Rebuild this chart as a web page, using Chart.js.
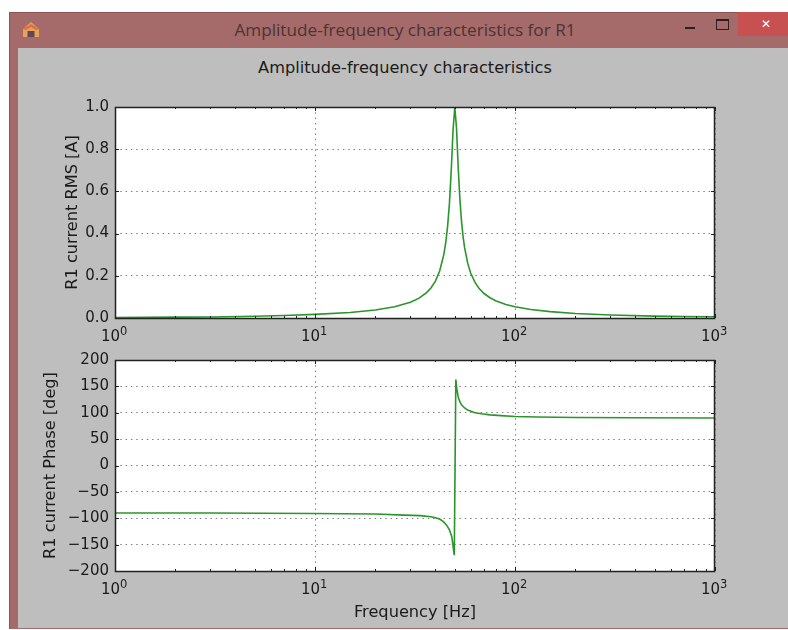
<!DOCTYPE html>
<html>
<head>
<meta charset="utf-8">
<title>Amplitude-frequency characteristics for R1</title>
<script src="https://cdn.jsdelivr.net/npm/chart.js@4"></script>
<style>
    html, body { margin: 0; padding: 0; background: #fff; overflow: hidden; }
    #window { position: absolute; left: 9px; top: 12px; width: 779px; height: 617px; background: #a56a6a; border-top: 1px solid #8a5555; border-left: 1px solid #8a5555; box-sizing: border-box; }
    #content { position: absolute; left: 18px; top: 48px; width: 770px; height: 580px; background: #bebebe; }
    #caption { position: absolute; left: 9px; top: 19px; width: 792px; text-align: center; font: 17.2px "Open Sans", sans-serif; color: #4a3434; line-height: 22px; }
    #heading { position: absolute; left: 18px; top: 59px; width: 774px; text-align: center; font: 16.2px "DejaVu Sans", sans-serif; color: #1a1a1a; line-height: 18px; }
    #close { position: absolute; left: 738px; top: 12px; width: 44px; padding-left: 6px; height: 24px; background: #c75050; color: #fff; text-align: center; font: bold 12px/24px "DejaVu Sans", sans-serif; }
    #minimize { position: absolute; left: 685px; top: 27px; width: 10px; height: 2px; background: #2b2020; }
    #maximize { position: absolute; left: 716px; top: 19px; width: 11px; height: 8px; border: 1px solid #2b2020; border-top-width: 2px; box-sizing: content-box; }
    #icon { position: absolute; left: 21px; top: 21px; }
    #amp-box { position: absolute; left: 18px; top: 90px; width: 770px; height: 260px; }
    #phase-box { position: absolute; left: 18px; top: 350px; width: 770px; height: 278px; }
    #amp-box canvas, #phase-box canvas { position: absolute; left: 0; top: 0; }
</style>
</head>
<body>
<div id="window"></div>
<svg id="icon" width="20" height="18" viewBox="0 0 20 18">
    <path d="M10 1 L18 8 L18 16 L2 16 L2 8 Z" fill="#e9a05a"/>
    <path d="M2 8 L10 3 L18 8 L15 9 L10 6 L5 9 Z" fill="#d9704a"/>
    <rect x="6.5" y="10" width="7" height="6" fill="#5c4a58"/>
</svg>
<div id="caption">Amplitude-frequency characteristics for R1</div>
<div id="minimize"></div>
<div id="maximize"></div>
<div id="close">✕</div>
<div id="content"></div>
<div id="heading">Amplitude-frequency characteristics</div>
<div id="amp-box"><canvas id="amp-chart"></canvas></div>
<div id="phase-box"><canvas id="phase-chart"></canvas></div>

<script>
// Values
const ampFreq = [1, 2, 3, 5, 7, 10, 15, 20, 25, 30, 33, 36, 38, 40, 42, 44, 45, 46, 47, 48, 49, 50, 51, 52, 53, 54, 55, 56, 58, 60, 63, 66, 70, 75, 80, 90, 100, 120, 150, 200, 300, 500, 700, 1000];
const ampValues = [0.002, 0.004, 0.005, 0.008, 0.012, 0.017, 0.026, 0.038, 0.053, 0.075, 0.093, 0.119, 0.142, 0.175, 0.223, 0.298, 0.354, 0.432, 0.542, 0.70, 0.89, 1.0, 0.90, 0.714, 0.565, 0.46, 0.386, 0.332, 0.26, 0.213, 0.17, 0.141, 0.116, 0.096, 0.082, 0.064, 0.053, 0.040, 0.030, 0.021, 0.014, 0.009, 0.007, 0.006];

const phaseFreq = [1, 3, 10, 20, 28, 33.5, 38, 40, 42.2, 44, 45.5, 47, 48.3, 49.7, 50.6, 51.2, 52, 53, 54, 56, 58, 63, 68, 75, 85, 100, 130, 200, 400, 1000];
const phaseValues = [-90, -90, -91, -92, -94, -95, -97, -99, -102, -107, -113, -122, -135, -170, 163, 145, 130, 121, 115, 109, 105, 100, 98, 96, 94.5, 93, 92, 91, 90.5, 90];

const xTicks = [1, 2, 3, 4, 5, 6, 7, 8, 9, 10, 20, 30, 40, 50, 60, 70, 80, 90, 100, 200, 300, 400, 500, 600, 700, 800, 900, 1000];
const xMajorTicks = [1, 10, 100, 1000];
const xExponents = ['0', '1', '2', '3'];
const ampTicks = [0, 0.2, 0.4, 0.6, 0.8, 1.0];
const phaseTicks = [-200, -150, -100, -50, 0, 50, 100, 150, 200];

const lineColor = '#2a962a';
const gridColor = '#808080';
const fontFamily = '"DejaVu Sans", sans-serif';
const textColor = '#1a1a1a';

// White plot area, inward ticks and 10^n labels like the matplotlib original
const framePlugin = {
    id: 'frame',
    beforeDraw(chart) {
        const { ctx, chartArea: area } = chart;
        ctx.save();
        ctx.fillStyle = '#fff';
        ctx.fillRect(area.left, area.top, area.width, area.height);
        ctx.restore();
    },
    afterDraw(chart) {
        const { ctx, chartArea: area, scales } = chart;
        ctx.save();
        ctx.strokeStyle = '#222';
        ctx.lineWidth = 1;
        ctx.beginPath();
        scales.x.ticks.forEach(tick => {
            const px = Math.round(scales.x.getPixelForValue(tick.value)) + 0.5;
            const len = xMajorTicks.includes(tick.value) ? 4 : 2;
            ctx.moveTo(px, area.top);
            ctx.lineTo(px, area.top + len);
            ctx.moveTo(px, area.bottom);
            ctx.lineTo(px, area.bottom - len);
        });
        scales.y.ticks.forEach(tick => {
            const py = Math.round(scales.y.getPixelForValue(tick.value)) + 0.5;
            ctx.moveTo(area.left, py);
            ctx.lineTo(area.left + 4, py);
            ctx.moveTo(area.right, py);
            ctx.lineTo(area.right - 4, py);
        });
        ctx.stroke();
        ctx.lineWidth = 1.5;
        ctx.strokeRect(area.left + 0.5, area.top + 0.5, area.width - 1, area.height);

        ctx.fillStyle = textColor;
        ctx.textAlign = 'left';
        ctx.textBaseline = 'alphabetic';
        xMajorTicks.forEach((value, i) => {
            const px = scales.x.getPixelForValue(value);
            const y = area.bottom + 22.5;
            ctx.font = '15px ' + fontFamily;
            ctx.fillText('10', px - 14, y);
            ctx.font = '11.5px ' + fontFamily;
            ctx.fillText(xExponents[i], px + 5, y - 6);
        });
        ctx.restore();
    }
};

// Both panels share the same look, only data and axis text differ
function makeChart(id, freq, values, yTicks, yMin, yMax, yTitle, xTitle, yWidth, yFormat, xHeight, padTop) {
    return new Chart(document.getElementById(id).getContext('2d'), {
        type: 'line',
        data: {
            datasets: [{
                data: freq.map((f, i) => ({ x: f, y: values[i] })),
                borderColor: lineColor,
                borderWidth: 1.6,
                pointRadius: 0,
                tension: 0,
                fill: false
            }]
        },
        options: {
            responsive: false,
            animation: false,
            layout: { padding: { left: 97 - yWidth, right: 73, top: padTop, bottom: 0 } },
            plugins: { legend: { display: false }, tooltip: { enabled: false } },
            scales: {
                x: {
                    type: 'logarithmic',
                    min: 1,
                    max: 1000,
                    afterBuildTicks: scale => { scale.ticks = xTicks.map(v => ({ value: v })); },
                    afterFit: scale => { scale.height = xHeight; scale.paddingLeft = 0; scale.paddingRight = 0; },
                    ticks: { display: false, autoSkip: false, maxRotation: 0 },
                    grid: {
                        drawTicks: false,
                        color: ctx => xMajorTicks.includes(ctx.tick && ctx.tick.value) ? gridColor : 'rgba(0,0,0,0)',
                        lineWidth: 1
                    },
                    border: { dash: [1.5, 3.8], display: false },
                    title: {
                        display: !!xTitle,
                        text: xTitle,
                        color: textColor,
                        font: { family: fontFamily, size: 16.2 },
                        padding: { top: 0, bottom: 5 }
                    }
                },
                y: {
                    min: yMin,
                    max: yMax,
                    afterBuildTicks: scale => { scale.ticks = yTicks.map(v => ({ value: v })); },
                    afterFit: scale => { scale.width = yWidth; scale.paddingTop = 0; scale.paddingBottom = 0; },
                    ticks: {
                        autoSkip: false,
                        padding: 6,
                        color: textColor,
                        font: { family: fontFamily, size: 15 },
                        callback: yFormat
                    },
                    grid: {
                        drawTicks: false,
                        color: gridColor,
                        lineWidth: 1
                    },
                    border: { dash: [1.5, 3.8], display: false },
                    title: {
                        display: true,
                        text: yTitle,
                        color: textColor,
                        font: { family: fontFamily, size: 16.2 },
                        padding: { top: 0, bottom: 0 }
                    }
                }
            }
        },
        plugins: [framePlugin]
    });
}

function sizeCanvas(id, w, h) {
    const c = document.getElementById(id);
    c.width = w;
    c.height = h;
    c.style.width = w + 'px';
    c.style.height = h + 'px';
}

sizeCanvas('amp-chart', 770, 260);
sizeCanvas('phase-chart', 770, 278);

// top panel: plot box 115..715 x 107..318, bottom panel: 115..715 x 360..571
makeChart('amp-chart', ampFreq, ampValues, ampTicks, 0, 1, 'R1 current RMS [A]', '', 52, v => v.toFixed(1), 32, 17);
makeChart('phase-chart', phaseFreq, phaseValues, phaseTicks, -200, 200, 'R1 current Phase [deg]', 'Frequency [Hz]', 74,
    v => String(v).replace('-', '\u2212'), 57, 10);
</script>
</body>
</html>
